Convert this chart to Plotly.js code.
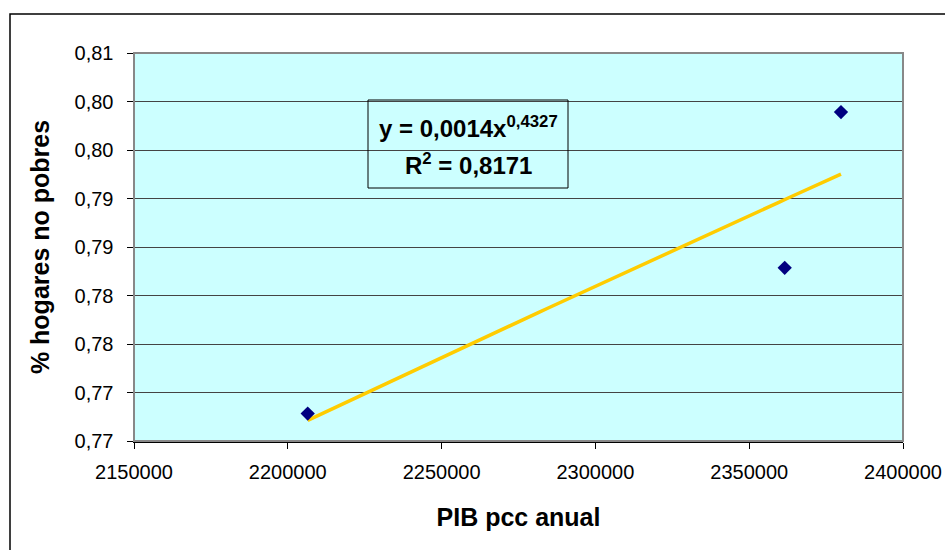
<!DOCTYPE html>
<html>
<head>
<meta charset="utf-8">
<script src="https://cdn.plot.ly/plotly-3.0.1.min.js"></script>
<style>html,body{margin:0;padding:0;background:#fff;}#chart{width:945px;height:550px;}</style>
</head>
<body>
<div id="chart"></div>
<script>
// Data
const pib = [2206470, 2361540, 2379840];
const hogares = [0.76783, 0.78285, 0.79891];
const yTickVals = [0.765, 0.770, 0.775, 0.780, 0.785, 0.790, 0.795, 0.800, 0.805];
const yTickText = ['0,77', '0,77', '0,78', '0,78', '0,79', '0,79', '0,80', '0,80', '0,81'];
const xTickVals = [2150000, 2200000, 2250000, 2300000, 2350000, 2400000];
const xTickText = ['2150000', '2200000', '2250000', '2300000', '2350000', '2400000'];

// Power trendline (least squares in log-log space, as Excel does)
const lx = pib.map(Math.log), ly = hogares.map(Math.log);
const n = lx.length;
const mx = lx.reduce((a, b) => a + b, 0) / n, my = ly.reduce((a, b) => a + b, 0) / n;
let sxy = 0, sxx = 0;
for (let i = 0; i < n; i++) { sxy += (lx[i] - mx) * (ly[i] - my); sxx += (lx[i] - mx) ** 2; }
const b = sxy / sxx, a = Math.exp(my - b * mx);
const xmin = Math.min(...pib), xmax = Math.max(...pib);
const tx = [], ty = [];
for (let k = 0; k <= 60; k++) { const x = xmin + (xmax - xmin) * k / 60; tx.push(x); ty.push(a * Math.pow(x, b)); }

const L = 134, R = 903, T = 53, B = 441, W = 945, H = 550;
const pw = R - L, ph = B - T;
const px = v => (v - L) / pw, py = v => (B - v) / ph;
const FONT = 'Liberation Sans, Arial, sans-serif';

const traces = [
  {x: tx, y: ty, mode: 'lines', line: {color: '#FFCC00', width: 3.5}, hoverinfo: 'skip', showlegend: false},
  {x: pib, y: hogares, mode: 'markers', marker: {symbol: 'diamond', color: '#000080', size: 11}, showlegend: false}
];

const layout = {
  width: W, height: H,
  margin: {l: L, r: W - R, t: T, b: H - B, pad: 0},
  paper_bgcolor: '#ffffff', plot_bgcolor: '#CCFFFF',
  font: {family: FONT, color: '#000', size: 20},
  showlegend: false,
  xaxis: {
    range: [2150000, 2400000], tickvals: xTickVals, ticktext: xTickText,
    ticks: 'outside', ticklen: 6, tickcolor: '#000', tickwidth: 1,
    showline: true, linecolor: '#000', linewidth: 1.5, showgrid: false, zeroline: false,
    tickfont: {size: 20, family: FONT}, ticklabelstandoff: 6,
    title: {text: 'PIB pcc anual', font: {size: 25, family: FONT, weight: 'bold'}, standoff: 27}
  },
  yaxis: {
    range: [0.765, 0.805], tickvals: yTickVals, ticktext: yTickText,
    ticks: 'outside', ticklen: 6, tickcolor: '#000', tickwidth: 1,
    showline: true, linecolor: '#000', linewidth: 1.5, showgrid: true, gridcolor: '#444', gridwidth: 1, zeroline: false,
    tickfont: {size: 20, family: FONT}, ticklabelstandoff: 9,
    title: {text: '% hogares no pobres', font: {size: 25, family: FONT, weight: 'bold'}, standoff: 18}
  },
  shapes: [
    {type: 'rect', xref: 'paper', yref: 'paper', x0: 0, x1: 1, y0: 0, y1: 1, line: {color: '#888', width: 2}, layer: 'above'},
    {type: 'rect', xref: 'paper', yref: 'paper', x0: px(10), x1: px(960), y0: py(14), y1: py(565), line: {color: '#000', width: 1.5}, layer: 'above'},
    {type: 'rect', xref: 'paper', yref: 'paper', x0: px(368), x1: px(568), y0: py(100), y1: py(188), line: {color: '#000', width: 1}, layer: 'above'}
  ],
  annotations: [
    {xref: 'paper', yref: 'paper', x: px(468), y: py(127), xanchor: 'center', yanchor: 'middle', showarrow: false,
     text: 'y = 0,0014x<sup>0,4327</sup>', font: {size: 24, family: FONT, weight: 'bold'}},
    {xref: 'paper', yref: 'paper', x: px(468), y: py(164), xanchor: 'center', yanchor: 'middle', showarrow: false,
     text: 'R<sup>2</sup> = 0,8171', font: {size: 24, family: FONT, weight: 'bold'}}
  ]
};

Plotly.newPlot('chart', traces, layout, {displayModeBar: false, staticPlot: true});
</script>
</body>
</html>
